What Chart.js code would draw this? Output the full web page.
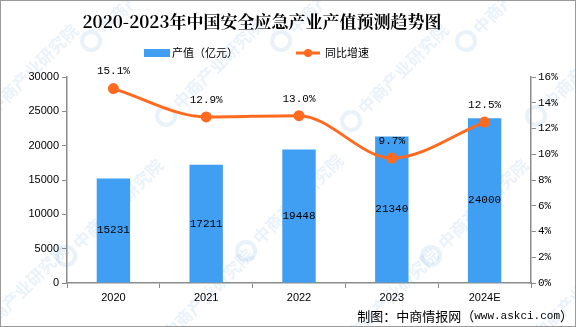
<!DOCTYPE html>
<html>
<head>
<meta charset="utf-8">
<script src="https://cdn.jsdelivr.net/npm/chart.js@4/dist/chart.umd.min.js"></script>
<style>
  html, body { margin: 0; padding: 0; background: #fff; }
  #wrap { position: relative; width: 576px; height: 327px; box-sizing: border-box; border: 1px solid #9a9a9a; }
  canvas { display: block; }
</style>
</head>
<body>
<div id="wrap"><canvas id="c" width="574" height="325"></canvas></div>
<script>
const years = ['2020', '2021', '2022', '2023', '2024E'];
const outputValue = [15231, 17211, 19448, 21340, 24000];   // 产值（亿元）
const growthRate = [15.1, 12.9, 13.0, 9.7, 12.5];          // 同比增速 %

const BLUE = '#409ff2';
const ORANGE = '#ff6a1f';
const AXIS = '#8c8c8c';
const SANS = '"Liberation Sans", Arial, "Noto Sans CJK SC", sans-serif';
const MONO = '"Liberation Mono", "DejaVu Sans Mono", monospace';
const CJK = '"Noto Sans CJK SC", sans-serif';

// faint diagonal brand marks behind the plot
const watermark = {
  id: 'watermark',
  beforeDraw(chart) {
    const ctx = chart.ctx;
    ctx.save();
    ctx.font = 'bold 17px ' + CJK;
    ctx.textBaseline = 'middle';
    const spots = [[-10, 110], [175, 105], [360, 110], [545, 105], [75, 245], [255, 240], [440, 245], [-20, 330], [165, 335], [350, 335], [535, 335], [100, 30], [290, 30], [475, 30]];
    spots.forEach(([x, y]) => {
      ctx.save();
      ctx.translate(x, y);
      ctx.rotate(-Math.PI / 4);
      ctx.beginPath();
      ctx.arc(-14, 0, 9, 0, Math.PI * 2);
      ctx.lineWidth = 4;
      ctx.strokeStyle = 'rgba(120,170,220,0.16)';
      ctx.stroke();
      ctx.fillStyle = 'rgba(110,165,220,0.15)';
      ctx.fillText('中商产业研究院', 0, 0);
      ctx.restore();
    });
    ctx.restore();
  }
};

// title, legend and source line
const frame = {
  id: 'frame',
  afterDraw(chart) {
    const ctx = chart.ctx;
    ctx.save();
    ctx.fillStyle = '#000';
    ctx.textAlign = 'center';
    ctx.textBaseline = 'middle';
    ctx.font = 'bold 17px "Noto Serif CJK SC", ' + CJK;
    ctx.fillText('2020-2023年中国安全应急产业产值预测趋势图', 261, 21);

    // legend
    ctx.fillStyle = BLUE;
    ctx.fillRect(143, 48, 26, 8);
    ctx.fillStyle = '#000';
    ctx.textAlign = 'left';
    ctx.font = '11px ' + CJK;
    ctx.fillText('产值（亿元）', 171, 52);
    ctx.strokeStyle = ORANGE;
    ctx.lineWidth = 3;
    ctx.beginPath();
    ctx.moveTo(295, 52);
    ctx.lineTo(319, 52);
    ctx.stroke();
    ctx.fillStyle = ORANGE;
    ctx.beginPath();
    ctx.arc(307, 52, 4, 0, Math.PI * 2);
    ctx.fill();
    ctx.fillStyle = '#000';
    ctx.fillText('同比增速', 324, 52);

    // source line, right aligned, drawn right to left in three runs
    ctx.textAlign = 'right';
    let x = 572;
    const parts = [['）', '13px ' + CJK], ['www.askci.com', '11px ' + MONO], ['制图：中商情报网（', '13px ' + CJK]];
    parts.forEach(([t, f]) => {
      ctx.font = f;
      ctx.fillText(t, x, 315);
      x -= ctx.measureText(t).width;
    });
    ctx.restore();
  }
};

// value labels: bar values centred in bars, rates above points
const valueLabels = {
  id: 'valueLabels',
  afterDatasetsDraw(chart) {
    const ctx = chart.ctx;
    ctx.save();
    ctx.fillStyle = '#000';
    ctx.textAlign = 'center';
    ctx.textBaseline = 'middle';
    ctx.font = '11px ' + MONO;
    chart.getDatasetMeta(1).data.forEach((bar, i) => {
      ctx.fillText(String(outputValue[i]), bar.x, (bar.y + bar.base) / 2);
    });
    chart.getDatasetMeta(0).data.forEach((pt, i) => {
      ctx.fillText(growthRate[i].toFixed(1) + '%', pt.x, pt.y - 17);
    });
    ctx.restore();
  }
};

new Chart(document.getElementById('c'), {
  data: {
    labels: years,
    datasets: [
      {
        type: 'line',
        label: '同比增速',
        data: growthRate,
        yAxisID: 'y1',
        borderColor: ORANGE,
        backgroundColor: ORANGE,
        borderWidth: 3,
        pointRadius: 4,
        pointHoverRadius: 4,
        cubicInterpolationMode: 'monotone',
        order: 0
      },
      {
        type: 'bar',
        label: '产值（亿元）',
        data: outputValue,
        yAxisID: 'y',
        backgroundColor: BLUE,
        barPercentage: 0.36,
        categoryPercentage: 1,
        order: 1
      }
    ]
  },
  options: {
    responsive: false,
    animation: false,
    events: [],
    layout: { padding: { top: 76, left: 0, right: 0, bottom: 17 } },
    plugins: { legend: { display: false }, title: { display: false }, tooltip: { enabled: false } },
    scales: {
      x: {
        offset: true,
        border: { color: AXIS, width: 1.5 },
        grid: { display: true, drawOnChartArea: false, drawTicks: true, tickLength: 5, color: AXIS, offset: true },
        ticks: { color: '#000', font: { size: 11, family: SANS }, padding: 3 },
        afterFit(s) { s.height = 26; }
      },
      y: {
        position: 'left',
        min: 0, max: 30000,
        border: { color: AXIS, width: 1.5 },
        grid: { display: true, drawOnChartArea: false, drawTicks: true, tickLength: 5, color: AXIS },
        ticks: { stepSize: 5000, color: '#000', font: { size: 11, family: SANS }, padding: 3, callback: v => String(v) },
        afterFit(s) { s.width = 66; }
      },
      y1: {
        position: 'right',
        min: 0, max: 16,
        border: { color: AXIS, width: 1.5 },
        grid: { display: true, drawOnChartArea: false, drawTicks: true, tickLength: 5, color: AXIS },
        ticks: { stepSize: 2, color: '#000', font: { size: 11, family: MONO }, padding: 2, callback: v => v + '%' },
        afterFit(s) { s.width = 44; }
      }
    }
  },
  plugins: [watermark, frame, valueLabels]
});
</script>
</body>
</html>
